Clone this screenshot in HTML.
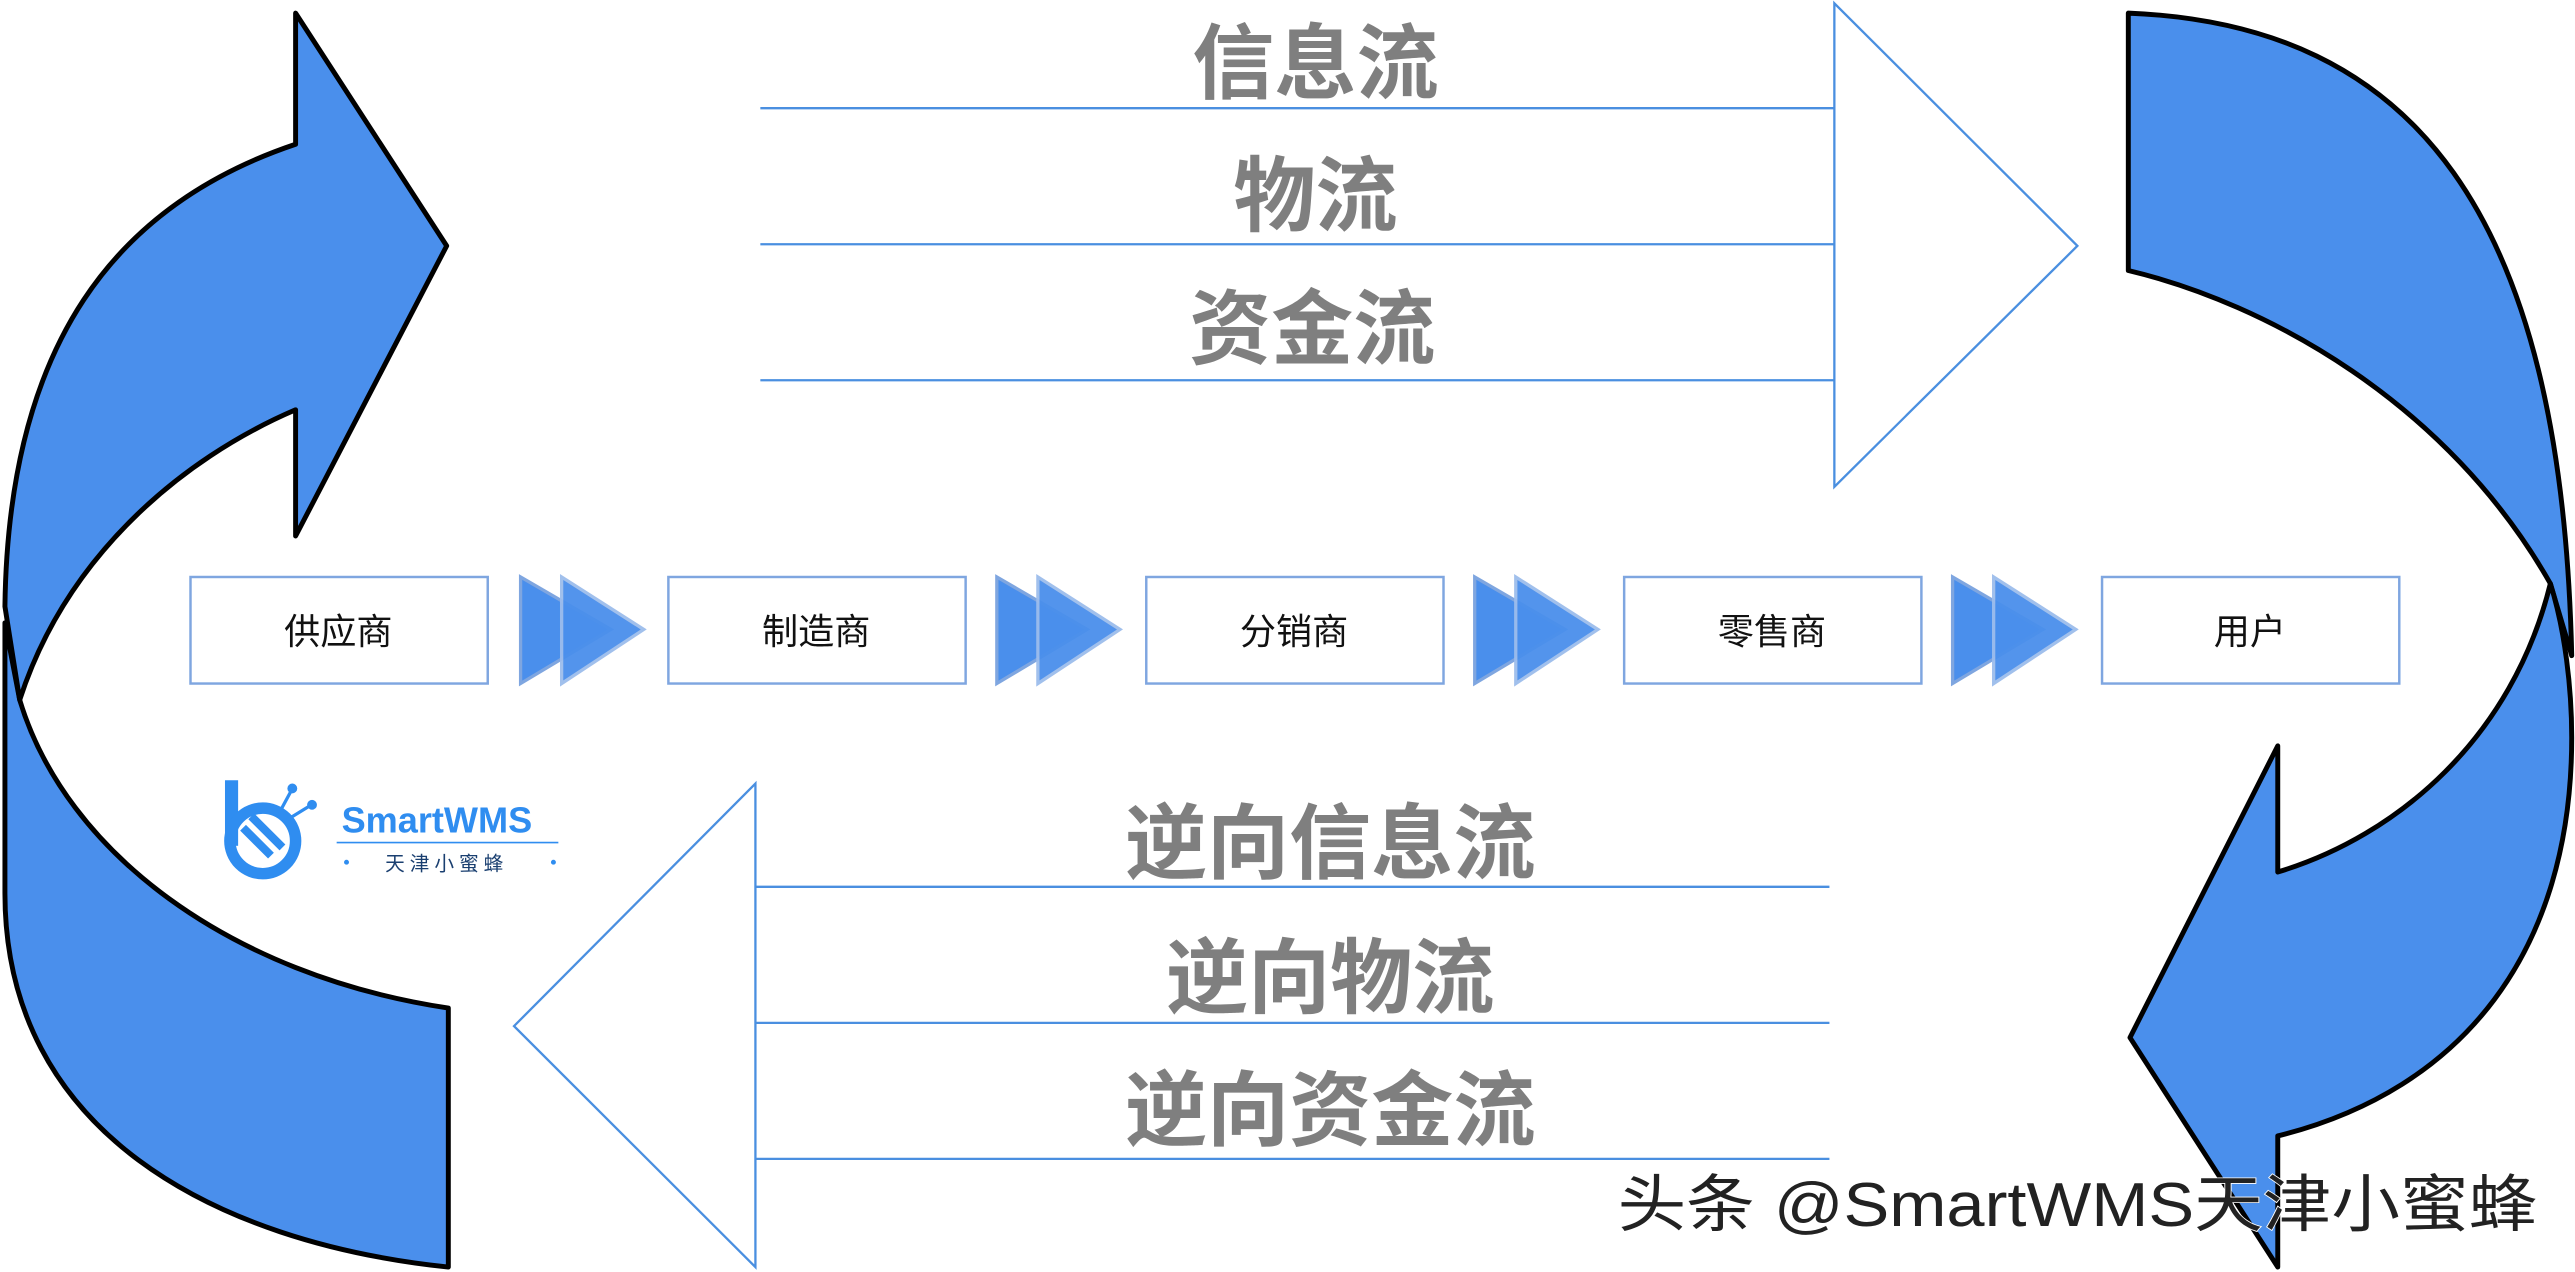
<!DOCTYPE html>
<html><head><meta charset="utf-8"><style>
html,body{margin:0;padding:0;background:#fff;width:2575px;height:1272px;overflow:hidden}
svg{display:block}
text{font-family:"Liberation Sans","Noto Sans CJK SC",sans-serif}
</style></head><body>
<svg width="2575" height="1272" viewBox="0 0 1568 776" preserveAspectRatio="none" xmlns="http://www.w3.org/2000/svg">
<!-- left curved arrow -->
<path d="M273,615 C140,595 40,520 12,427 L3,380 L3,545 C3,690 130,758 273,773 Z" fill="#4a8fec" stroke="#000" stroke-width="3" stroke-linejoin="round"/>
<path d="M12,427 C40,340 110,280 180,250 L180,327 L272,150 L180,8 L180,88 C70,125 5,210 3,370 Z" fill="#4a8fec" stroke="#000" stroke-width="3" stroke-linejoin="round"/>
<!-- right curved arrow -->
<path d="M1296,8 C1470,15 1560,130 1566,400 L1553,356 C1490,245 1380,185 1296,165 Z" fill="#4a8fec" stroke="#000" stroke-width="3" stroke-linejoin="round"/>
<path d="M1553,356 C1530,450 1460,510 1387,532 L1387,455 L1297,633 L1387,773 L1387,693 C1500,665 1566,580 1566,450 C1566,420 1562,385 1553,356 Z" fill="#4a8fec" stroke="#000" stroke-width="3" stroke-linejoin="round"/>
<!-- hollow arrows -->
<g stroke="#4a8fe0" stroke-width="1.4" fill="none">
<path d="M1117,2 L1265,150 L1117,297 Z"/>
<line x1="463" y1="66" x2="1117" y2="66"/><line x1="463" y1="149" x2="1117" y2="149"/><line x1="463" y1="232" x2="1117" y2="232"/>
<path d="M460,478 L313,626 L460,773 Z"/>
<line x1="460" y1="541" x2="1114" y2="541"/><line x1="460" y1="624" x2="1114" y2="624"/><line x1="460" y1="707" x2="1114" y2="707"/>
</g>
<g fill="#7f7f7f" font-weight="bold" font-size="50" text-anchor="middle">
<text x="801" y="56">信息流</text>
<text x="801" y="137">物流</text>
<text x="799" y="218">资金流</text>
<text x="810" y="532">逆向信息流</text>
<text x="810" y="614">逆向物流</text>
<text x="810" y="695">逆向资金流</text>
</g>
<!-- boxes -->
<g fill="#fff" stroke="#7fa6e0" stroke-width="1.5">
<rect x="116" y="352" width="181" height="65"/><rect x="407" y="352" width="181" height="65"/>
<rect x="698" y="352" width="181" height="65"/><rect x="989" y="352" width="181" height="65"/>
<rect x="1280" y="352" width="181" height="65"/>
</g>
<g font-size="22" fill="#111" text-anchor="middle">
<text x="206" y="393">供应商</text><text x="497" y="393">制造商</text><text x="788" y="393">分销商</text>
<text x="1079" y="393">零售商</text><text x="1370" y="393">用户</text>
</g>
<!-- chevrons -->
<g>
<g id="ch"><path d="M317,352 L317,417 L372,384 Z" fill="#4a8fec" stroke="#7fa6e0" stroke-width="2"/><path d="M342,352 L342,417 L392,384 Z" fill="#4a8fec" stroke="#9dbdec" stroke-width="2" opacity="0.95"/></g>
<use href="#ch" x="290"/><use href="#ch" x="581"/><use href="#ch" x="872"/>
</g>
<!-- logo -->
<g>
<rect x="137" y="476" width="8" height="40" fill="#2f8df0"/>
<circle cx="160" cy="513" r="20" fill="none" stroke="#2f8df0" stroke-width="7"/>
<path d="M148,505 L165,522 M153,498 L172,517" stroke="#2f8df0" stroke-width="5"/>
<path d="M170,496 L177,483 M175,500 L188,492" stroke="#2f8df0" stroke-width="2"/>
<circle cx="178" cy="481" r="3" fill="#2f8df0"/><circle cx="190" cy="491" r="3" fill="#2f8df0"/>
<text x="208" y="508" font-size="22" font-weight="bold" fill="#2f8df0">SmartWMS</text>
<line x1="205" y1="514" x2="340" y2="514" stroke="#2f8df0" stroke-width="1"/>
<text x="272" y="531" font-size="12" fill="#1a3f70" text-anchor="middle" letter-spacing="3">天津小蜜蜂</text>
<circle cx="211" cy="526" r="1.5" fill="#2f8df0"/><circle cx="337" cy="526" r="1.5" fill="#2f8df0"/>
</g>
<!-- watermark -->
<text x="985" y="748" font-size="38" fill="#222" stroke="#fff" stroke-width="1" paint-order="stroke" textLength="560" lengthAdjust="spacingAndGlyphs">头条 @SmartWMS天津小蜜蜂</text>
</svg>
</body></html>
